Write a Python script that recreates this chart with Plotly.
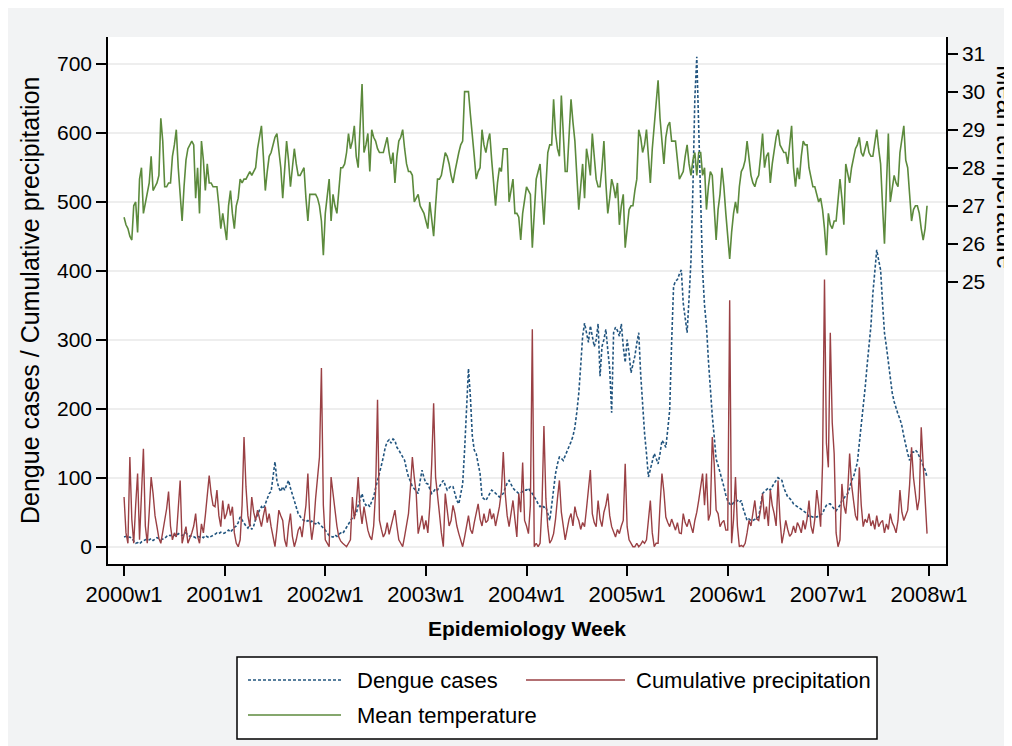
import plotly.graph_objects as go

# ---------------- data (weekly, 2000w1 .. 2007w52) ----------------
year_labels = ["2000w1", "2001w1", "2002w1", "2003w1", "2004w1",
               "2005w1", "2006w1", "2007w1", "2008w1"]

dengue_cases = [
    # 2000
    14, 15, 13, 14, 12, 8, 5, 6, 4, 7, 9, 10, 11,
    10, 12, 9, 11, 13, 12, 10, 11, 12, 15, 17, 16, 18,
    17, 15, 19, 17, 16, 18, 20, 17, 15, 16, 14, 13, 15,
    14, 15, 13, 16, 14, 13, 15, 16, 18, 20, 19, 21, 19,
    # 2001
    20, 22, 24, 21, 25, 28, 30, 35, 43, 38, 33, 30, 27,
    33, 25, 30, 40, 48, 53, 58, 55, 62, 70, 77, 80, 100,
    123, 96, 85, 80, 87, 82, 90, 96, 85, 76, 67, 57, 48,
    44, 40, 38, 36, 38, 35, 37, 34, 33, 36, 33, 30, 28,
    # 2002
    24, 20, 16, 15, 14, 17, 15, 18, 20, 19, 24, 28, 33,
    38, 42, 45, 48, 60, 70, 77, 65, 60, 62, 58, 66, 72,
    85, 95, 106, 118, 130, 144, 152, 155, 150, 156, 154, 144, 140,
    135, 130, 125, 112, 101, 95, 87, 84, 80, 77, 95, 111, 100,
    # 2003
    92, 91, 85, 77, 80, 84, 82, 88, 92, 96, 90, 82, 85,
    88, 87, 75, 67, 62, 75, 91, 140, 198, 258, 217, 160, 140,
    135, 120, 106, 72, 70, 67, 72, 78, 82, 80, 77, 74, 72,
    75, 77, 85, 92, 96, 90, 85, 82, 80, 77, 78, 80, 82,
    # 2004
    82, 85, 80, 77, 72, 68, 62, 58, 60, 57, 58, 48, 38,
    60, 87, 106, 120, 130, 128, 125, 132, 138, 144, 152, 160, 173,
    195, 222, 262, 305, 324, 310, 296, 320, 305, 290, 300, 323, 247,
    290, 300, 315, 285, 257, 194, 310, 318, 313, 305, 323, 290, 267,
    # 2005
    300, 280, 252, 265, 276, 295, 310, 250, 198, 165, 135, 101, 112,
    125, 135, 128, 120, 135, 154, 150, 144, 170, 198, 296, 377, 385,
    387, 395, 401, 353, 330, 310, 360, 415, 520, 650, 710, 600, 480,
    400, 350, 320, 270, 223, 190, 160, 127, 118, 108, 100, 87, 75,
    # 2006
    66, 62, 60, 64, 66, 67, 64, 67, 55, 45, 38, 40, 38,
    38, 40, 42, 43, 60, 77, 80, 82, 85, 82, 88, 92, 96,
    100, 98, 96, 85, 77, 72, 70, 67, 62, 60, 58, 55, 53,
    52, 50, 48, 43, 44, 43, 44, 43, 45, 46, 48, 55, 60,
    # 2007
    62, 62, 58, 55, 52, 56, 60, 67, 70, 74, 77, 85, 96,
    101, 110, 122, 150, 175, 198, 230, 262, 290, 320, 367, 401, 430,
    415, 401, 353, 310, 290, 267, 245, 223, 210, 199, 192, 185, 175,
    160, 146, 135, 125, 137, 137, 140, 137, 130, 125, 118, 111, 101,
]

precipitation = [
    # 2000
    72, 20, 5, 130, 40, 5, 60, 106, 10, 90, 142, 30, 5,
    50, 101, 77, 45, 29, 12, 5, 20, 38, 55, 80, 30, 10,
    20, 14, 60, 96, 5, 15, 29, 5, 12, 20, 30, 48, 15,
    5, 33, 20, 45, 70, 103, 77, 60, 58, 82, 45, 29, 67,
    # 2001
    40, 48, 62, 45, 58, 20, 5, 0, 10, 60, 159, 87, 45,
    29, 72, 50, 38, 53, 40, 29, 45, 58, 35, 48, 29, 15,
    0, 25, 53, 45, 38, 10, 0, 30, 48, 15, 0, 10, 24,
    29, 14, 38, 60, 106, 40, 10, 30, 70, 106, 130, 259, 60,
    # 2002
    10, 5, 0, 101, 75, 53, 30, 14, 8, 5, 2, 0, 5,
    10, 72, 40, 60, 101, 55, 33, 58, 40, 24, 15, 10, 30,
    80, 213, 38, 25, 14, 20, 35, 18, 29, 40, 53, 30, 10,
    5, 0, 15, 30, 48, 85, 130, 100, 77, 19, 30, 45, 25,
    # 2003
    38, 20, 58, 120, 208, 101, 70, 48, 20, 0, 77, 55, 30,
    38, 60, 48, 30, 19, 8, 0, 14, 30, 45, 25, 19, 35,
    50, 62, 40, 30, 48, 35, 38, 55, 40, 48, 30, 45, 58,
    80, 137, 77, 45, 29, 50, 67, 40, 14, 77, 50, 122, 38,
    # 2004
    30, 19, 60, 315, 0, 5, 0, 5, 60, 175, 70, 29, 5,
    10, 19, 40, 70, 96, 50, 29, 10, 25, 40, 48, 30, 58,
    45, 38, 25, 35, 29, 55, 80, 111, 48, 35, 29, 67, 40,
    29, 50, 60, 77, 45, 29, 20, 14, 25, 19, 30, 38, 120,
    # 2005
    29, 10, 5, 0, 0, 5, 0, 3, 8, 5, 10, 40, 67,
    20, 0, 5, 5, 60, 106, 80, 43, 35, 29, 40, 30, 24,
    35, 20, 19, 48, 35, 29, 40, 29, 20, 38, 50, 67, 90,
    106, 60, 106, 38, 48, 159, 120, 53, 48, 29, 35, 38, 24,
    # 2006
    24, 357, 5, 40, 101, 30, 0, 2, 0, 5, 20, 38, 30,
    48, 67, 40, 38, 55, 77, 40, 58, 30, 82, 60, 48, 30,
    96, 40, 5, 20, 38, 25, 15, 19, 30, 20, 35, 29, 20,
    38, 25, 40, 67, 30, 19, 40, 82, 60, 29, 120, 387, 150,
    # 2007
    115, 310, 180, 135, 20, 0, 10, 91, 60, 48, 80, 135, 90,
    67, 45, 38, 115, 60, 29, 40, 35, 48, 30, 38, 25, 45,
    29, 35, 38, 20, 33, 25, 48, 35, 29, 20, 38, 82, 50,
    38, 45, 53, 90, 144, 100, 77, 53, 70, 173, 120, 77, 19,
]

mean_temperature = [
    # 2000
    26.7, 26.5, 26.4, 26.2, 26.1, 27.0, 27.1, 26.3, 27.7, 28.0, 26.8, 27.1, 27.4,
    27.6, 28.3, 27.4, 27.5, 27.6, 27.8, 29.3, 28.7, 27.5, 27.5, 27.6, 27.6, 28.3,
    28.6, 29.0, 28.0, 27.2, 26.6, 27.5, 28.2, 28.5, 28.6, 28.7, 28.6, 27.2, 28.0,
    26.8, 28.7, 28.2, 27.4, 28.1, 27.6, 27.6, 27.5, 27.5, 27.5, 27.0, 26.4, 26.8,
    # 2001
    26.4, 26.1, 27.0, 27.4, 26.8, 26.4, 27.0, 27.2, 27.7, 27.6, 27.7, 27.7, 27.8,
    27.9, 27.8, 27.9, 28.0, 28.5, 28.8, 29.1, 28.3, 27.4, 27.9, 28.3, 28.4, 28.6,
    28.8, 28.9, 28.4, 28.0, 27.2, 27.9, 28.7, 28.2, 27.5, 28.0, 28.5, 28.1, 27.8,
    27.8, 27.9, 28.0, 27.2, 26.6, 27.3, 27.3, 27.3, 27.3, 27.2, 27.0, 26.6, 25.7,
    # 2002
    26.8, 27.3, 27.7, 26.6, 27.3, 27.0, 26.8, 27.4, 28.0, 28.0, 28.1, 28.4, 28.9,
    28.5, 28.7, 29.1, 28.3, 28.0, 29.0, 30.2, 28.4, 28.6, 28.9, 27.9, 29.0, 28.8,
    28.7, 28.5, 28.4, 28.4, 28.4, 28.6, 28.8, 28.4, 28.1, 28.4, 27.6, 28.3, 28.7,
    28.8, 29.0, 28.5, 28.1, 27.9, 27.9, 27.8, 27.1, 27.2, 27.3, 27.0, 26.9, 26.8,
    # 2003
    26.6, 26.4, 27.1, 26.6, 26.2, 27.0, 27.7, 27.7, 27.8, 28.1, 28.4, 28.3, 28.1,
    27.8, 27.6, 27.9, 28.2, 28.4, 28.6, 28.7, 30.0, 30.0, 30.0, 29.4, 28.9, 28.3,
    27.7, 27.9, 28.0, 29.0, 28.6, 28.4, 28.7, 28.9, 28.2, 27.6, 27.0, 27.6, 28.0,
    27.9, 28.5, 28.5, 28.5, 27.1, 27.4, 27.7, 26.8, 26.8, 26.7, 26.1, 26.8, 27.1,
    # 2004
    27.5, 27.4, 27.3, 25.9, 27.0, 27.7, 27.9, 28.1, 27.3, 26.5, 27.5, 28.4, 28.6,
    28.6, 29.8, 28.9, 28.5, 28.3, 29.9, 28.8, 27.9, 27.9, 28.9, 29.8, 29.2, 28.7,
    27.8, 26.9, 27.5, 28.1, 27.2, 28.5, 28.2, 27.8, 28.9, 28.2, 27.7, 27.5, 27.5,
    28.0, 28.7, 27.6, 26.8, 27.2, 27.7, 27.5, 27.2, 27.6, 26.5, 27.0, 27.3, 25.9,
    # 2005
    26.5, 26.9, 27.0, 27.0, 27.4, 27.7, 29.0, 28.8, 28.4, 28.6, 29.0, 28.2, 27.6,
    28.5, 29.1, 29.5, 30.3, 29.3, 28.6, 28.1, 28.8, 29.1, 29.2, 28.7, 28.7, 28.7,
    28.2, 27.7, 27.8, 27.9, 28.3, 28.6, 28.1, 27.8, 28.2, 28.4, 27.8, 28.4, 28.4,
    27.8, 28.0, 26.9, 27.5, 27.9, 27.8, 26.8, 26.1, 26.9, 27.3, 28.0, 27.5, 26.8,
    # 2006
    26.2, 25.6, 26.3, 26.8, 27.1, 26.8, 27.5, 27.9, 28.0, 28.2, 28.7, 28.2, 27.8,
    27.6, 27.5, 27.7, 27.8, 28.3, 28.9, 28.0, 28.3, 28.4, 27.6, 28.1, 28.5, 28.8,
    29.0, 28.6, 28.5, 28.4, 28.4, 28.1, 28.6, 29.1, 28.0, 27.5, 28.0, 27.7, 28.3,
    28.7, 28.6, 28.6, 28.0, 27.7, 27.5, 27.5, 27.3, 27.1, 27.2, 26.9, 26.4, 25.7,
    # 2007
    26.8, 26.5, 26.4, 26.6, 26.6, 27.2, 27.7, 27.2, 26.5, 28.1, 27.8, 27.6, 28.0,
    28.3, 28.5, 28.6, 28.8, 28.4, 28.3, 28.5, 28.7, 28.4, 28.3, 28.3, 28.6, 29.0,
    28.5, 28.1, 27.0, 26.0, 27.5, 28.9, 27.1, 27.4, 27.8, 27.6, 27.5, 28.4, 28.8,
    29.1, 28.2, 28.0, 27.3, 26.6, 26.9, 27.0, 27.0, 26.8, 26.4, 26.1, 26.4, 27.0,
]

left_ticks = [0, 100, 200, 300, 400, 500, 600, 700]
right_ticks = [25, 26, 27, 28, 29, 30, 31]

weeks = list(range(len(dengue_cases)))
tick_weeks = [52 * i for i in range(len(year_labels))]

# ---------------- style ----------------
FONT = "Liberation Sans, Arial, Helvetica, sans-serif"
NAVY = "#22557f"
MAROON = "#9a4044"
GREEN = "#5c8a3c"

# page offset (body margin) and plot area in page pixels
OFF = 8
L, R, T, B = 108, 946, 37, 564
W, H = R - L, B - T


def px(x):
    return (x - L) / W


def py(y):
    return (B - y) / H


fig = go.Figure()
fig.add_trace(go.Scatter(x=weeks, y=dengue_cases, mode="lines", name="Dengue cases",
                         line=dict(color=NAVY, width=1.6, dash="3px,2px")))
fig.add_trace(go.Scatter(x=weeks, y=precipitation, mode="lines", name="Cumulative precipitation",
                         line=dict(color=MAROON, width=1.4)))
fig.add_trace(go.Scatter(x=weeks, y=mean_temperature, mode="lines", name="Mean temperature",
                         yaxis="y2", line=dict(color=GREEN, width=1.6)))


def axis_style(size):
    return dict(showline=True, linecolor="black", linewidth=1.5, ticks="outside",
                tickcolor="black", tickwidth=1.5, zeroline=False, automargin=False,
                tickfont=dict(family=FONT, size=size, color="black"))


fig.update_layout(
    template="none",
    width=1012, height=746,
    margin=dict(l=L - OFF, r=1012 + OFF - R, t=T - OFF, b=746 + OFF - B),
    paper_bgcolor="#f2f3f4",
    plot_bgcolor="white",
    showlegend=False,
    font=dict(family=FONT, color="black"),
    xaxis=dict(range=[-8.3, 424.8], tickvals=tick_weeks, ticktext=year_labels,
               ticklen=10, showgrid=False,
               title=dict(text="<b>Epidemiology Week</b>", standoff=15,
                          font=dict(family=FONT, size=21, color="black")),
               **axis_style(22)),
    yaxis=dict(range=[-25.05, 738.5], tickvals=left_ticks, ticklen=10,
               showgrid=True, gridcolor="#eeeeee", gridwidth=1.5,
               **axis_style(21)),
    yaxis2=dict(range=[17.585, 31.436], tickvals=right_ticks, ticklen=10,
                overlaying="y", side="right", showgrid=False, **axis_style(21)),
)

# left axis title
fig.add_annotation(text="Dengue cases / Cumulative precipitation", xref="paper", yref="paper",
                   x=px(29.5), y=py(300.5), textangle=-90, showarrow=False,
                   xanchor="center", yanchor="middle",
                   font=dict(family=FONT, size=25, color="black"))

# right-axis title (centred on the temperature ticks, partly cut by the page edge)
fig.add_annotation(text="Mean temperature", xref="paper", yref="paper",
                   x=px(1006), y=py(167), textangle=90, showarrow=False,
                   xanchor="center", yanchor="middle",
                   font=dict(family=FONT, size=25, color="black"))

# legend box drawn like the original (two columns)
fig.add_shape(type="rect", xref="paper", yref="paper", x0=px(237), x1=px(877),
              y0=py(739), y1=py(657), fillcolor="white", line=dict(color="black", width=1.5))
legend_items = [
    ("Dengue cases", NAVY, "3px,2px", 248, 341, 355, 680),
    ("Cumulative precipitation", MAROON, "solid", 526, 625, 634, 680),
    ("Mean temperature", GREEN, "solid", 248, 341, 355, 715),
]
for label, color, dash, lx0, lx1, tx, ty in legend_items:
    fig.add_shape(type="line", xref="paper", yref="paper", x0=px(lx0), x1=px(lx1),
                  y0=py(ty), y1=py(ty), line=dict(color=color, width=1.6, dash=dash))
    fig.add_annotation(text=label, xref="paper", yref="paper", x=px(tx), y=py(ty),
                       xanchor="left", yanchor="middle", showarrow=False,
                       font=dict(family=FONT, size=22, color="black"))

fig.write_html("out.html")
